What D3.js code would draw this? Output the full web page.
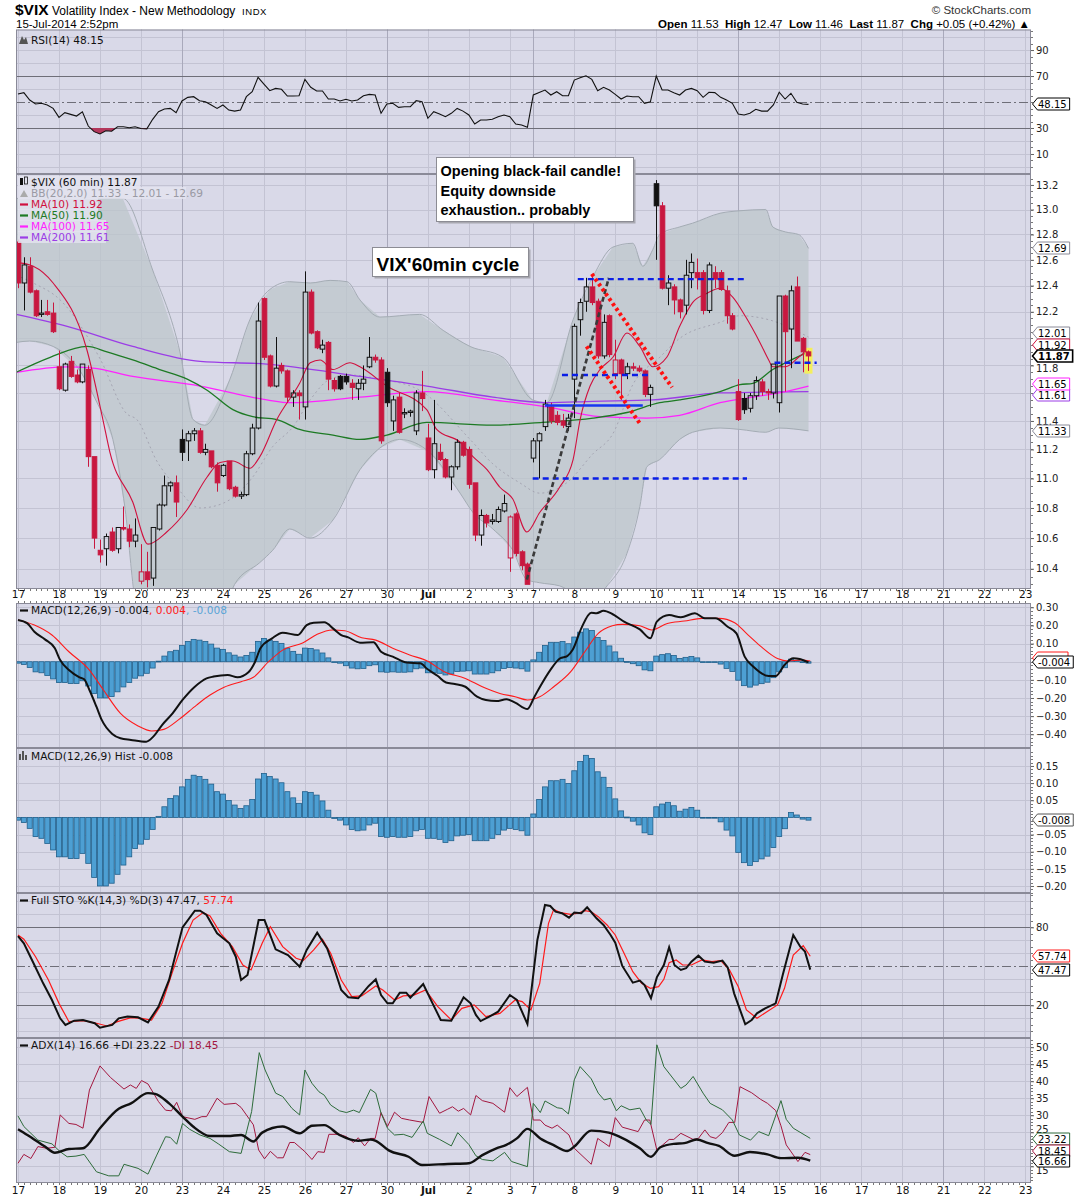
<!DOCTYPE html>
<html>
<head>
<meta charset="utf-8">
<script src="https://cdnjs.cloudflare.com/ajax/libs/d3/7.8.5/d3.min.js"></script>
<style>
  body { margin: 0; background: #fff; }
  text { font-family: "DejaVu Sans", Verdana, sans-serif; white-space: pre; }
</style>
</head>
<body>
<script>
// ---- x axis: day labels and the bar index where each day starts (7 hourly bars a day, Jul 3 half day)
var dayLabels = ["17","18","19","20","23","24","25","26","27","30","Jul","2","3","7","8","9","10","11","14","15","16","17","18","21","22","23"];
var dayStart  = [0,7,14,21,28,35,42,49,56,63,70,77,84,88,95,102,109,116,123,130,137,144,151,158,165,172];
var weekStart = [28,63,88,123,158];

// ---- 60 min candles
var opens  = [12.74,12.42,12.55,12.36,12.18,12.20,12.19,11.79,11.62,11.83, 11.73,11.68,11.77,11.15,10.52,10.53,10.64,10.53,10.67,10.66,
              10.58,10.32,10.38,10.34,10.66,10.82,10.95,10.97,11.27,11.26, 11.31,11.33,11.18,11.19,11.09,11.02,11.12,10.94,10.88,10.89,
              11.17,11.35,12.30,11.87,11.65,11.80,11.76,11.57,11.60,11.50, 12.35,12.05,11.92,11.97,11.69,11.72,11.72,11.67,11.63,11.67,
              11.79,11.86,11.84,11.75,11.40,11.57,11.45,11.46,11.33,11.60, 11.28,11.06,11.18,11.13,11.01,11.08,11.25,11.20,10.97,10.62,
              10.75,10.71,10.71,10.78,10.47,10.76,10.51,10.43,11.14,11.26, 11.36,11.50,11.44,11.40,11.36,11.70,12.14,12.28,12.39,12.28,
              11.87,12.17,11.74,11.84,11.74,11.79,11.78,11.76,11.59,13.21, 13.03,12.38,12.39,12.29,12.25,12.50,12.50,12.50,12.21,12.50,
              12.50,12.36,12.17,11.61,11.56,11.49,11.58,11.68,11.61,11.60, 11.53,12.32,12.07,12.39,12.00,11.90];
var highs  = [12.76,12.62,12.62,12.37,12.29,12.29,12.27,11.91,11.82,11.87, 11.77,11.81,11.80,11.15,10.59,10.63,10.67,10.67,10.81,10.69,
              10.73,10.56,10.51,10.67,10.83,11.02,10.98,11.02,11.34,11.33, 11.35,11.35,11.24,11.19,11.11,11.10,11.12,10.95,10.91,11.19,
              11.38,12.27,12.31,11.88,12.01,11.82,11.77,11.62,11.62,12.51, 12.37,12.06,11.99,11.98,11.71,11.73,11.74,11.70,11.70,11.80,
              12.01,11.88,11.86,11.78,11.58,11.60,11.49,11.48,11.62,11.76, 11.38,11.55,11.24,11.14,11.09,11.27,11.26,11.22,10.97,10.79,
              10.76,10.76,10.81,10.89,10.75,10.77,10.52,10.44,11.28,11.32, 11.55,11.53,11.47,11.45,11.45,12.11,12.30,12.46,12.49,12.30,
              12.18,12.18,11.99,11.85,11.82,11.82,11.80,11.77,11.66,13.24, 13.06,12.48,12.41,12.30,12.60,12.65,12.61,12.52,12.58,12.55,
              12.52,12.40,12.19,11.70,11.60,11.60,11.72,11.70,11.63,11.81, 12.32,12.33,12.40,12.47,12.01,11.91];
var lows   = [12.38,12.21,12.34,12.16,12.16,12.17,12.04,11.62,11.61,11.71, 11.67,11.67,11.08,10.53,10.44,10.42,10.51,10.50,10.65,10.54,
              10.54,10.30,10.28,10.29,10.65,10.81,10.91,10.74,11.12,11.12, 11.26,11.17,11.16,11.07,10.91,11.01,10.92,10.87,10.86,10.88,
              11.16,11.34,11.84,11.64,11.64,11.74,11.53,11.50,11.41,11.41, 12.03,11.92,11.89,11.62,11.61,11.62,11.66,11.55,11.55,11.62,
              11.78,11.82,11.24,11.50,11.33,11.31,11.42,11.43,11.30,11.47, 11.05,11.00,11.12,11.00,10.92,11.06,11.15,10.93,10.58,10.55,
              10.67,10.69,10.70,10.77,10.38,10.48,10.39,10.30,11.11,11.00, 11.33,11.38,11.37,11.35,11.33,11.42,12.02,12.20,12.25,11.85,
              11.85,11.86,11.70,11.55,11.70,11.76,11.75,11.57,11.50,12.60, 12.37,12.25,12.18,12.15,12.18,12.38,12.37,12.18,12.19,12.38,
              12.36,12.11,12.06,11.40,11.45,11.46,11.55,11.58,11.55,11.56, 11.46,11.61,11.78,11.98,11.75,11.76];
var closes = [12.42,12.56,12.35,12.17,12.19,12.18,12.05,11.63,11.81,11.72, 11.68,11.81,11.15,10.60,10.49,10.61,10.52,10.67,10.66,10.58,
              10.62,10.38,10.33,10.67,10.82,10.95,10.97,10.84,11.18,11.31, 11.33,11.18,11.20,11.08,10.97,11.09,10.93,10.88,10.89,11.17,
              11.35,12.13,11.86,11.65,11.78,11.76,11.57,11.60,11.58,12.35, 12.04,11.93,11.95,11.70,11.63,11.63,11.68,11.64,11.67,11.70,
              11.86,11.84,11.26,11.53,11.55,11.32,11.46,11.47,11.60,11.56, 11.06,11.24,11.13,11.01,11.08,11.25,11.16,10.96,10.62,10.75,
              10.70,10.72,10.79,10.83,10.74,10.50,10.42,10.30,11.26,11.31, 11.52,11.40,11.39,11.37,11.42,12.09,12.27,12.39,12.27,11.87,
              12.12,11.88,11.84,11.74,11.79,11.78,11.76,11.59,11.64,13.03, 12.38,12.42,12.29,12.20,12.48,12.58,12.46,12.21,12.56,12.45,
              12.37,12.17,12.07,11.41,11.48,11.58,11.69,11.61,11.60,11.81, 12.32,12.05,12.36,11.98,11.90,11.87];

// ---- overlays on the price panel, [bar, value]
var bbUpper = [[-0.3,13.09],[17.9,13.09],[23,12.52],[27.7,11.89],[29.9,11.41],[31.9,11.37],[36.2,11.70],[39.6,12.14],[43,12.37],[46.4,12.43],[49.9,12.42],[53.3,12.44],[56.2,12.43],[58.4,12.29],[61.8,12.16],[68.6,12.18],[72.6,12.06],[77.2,11.94],[82.8,11.86],[87.9,11.55],[90.3,11.53],[94.8,12.14],[98.2,12.47],[101.6,12.70],[105,12.73],[106.7,12.55],[108.4,12.68],[109.6,12.80],[113,12.86],[115.2,12.89],[119.9,12.97],[123.3,12.99],[127.7,13.0],[128.9,12.86],[131.1,12.82],[133.3,12.80],[135,12.69]];
var bbLower = [[-0.3,11.97],[2,11.98],[6,11.94],[10.6,11.76],[13.5,11.53],[16.2,11.27],[18.3,10.79],[20,10.20],[26,9.59],[33.6,9.95],[37,10.30],[41.3,10.44],[43.5,10.52],[46.4,10.66],[49.9,10.60],[53.8,10.72],[58.4,11.06],[61.8,11.21],[65.2,11.27],[70.3,11.18],[75.5,10.90],[77.7,10.77],[81.1,10.66],[84.5,10.52],[86.9,10.33],[89.1,10.31],[92.5,10.29],[97.7,10.19],[100.6,10.29],[104,10.50],[106.2,10.81],[107.4,11.08],[109.6,11.13],[113,11.27],[115.2,11.32],[119.9,11.35],[123.3,11.34],[127.7,11.32],[129.9,11.35],[135,11.33]];
var bbMid   = [[-0.3,12.48],[2.6,12.42],[7.2,12.29],[14,11.85],[18.6,11.45],[20.3,11.41],[23.7,11.12],[27.1,10.94],[31.1,10.80],[33.3,10.81],[36.7,10.87],[40.1,11.01],[43.5,11.22],[47,11.36],[49.9,11.55],[53.3,11.70],[56.7,11.73],[61.8,11.70],[68.6,11.62],[77.2,11.27],[81.1,11.10],[85.7,10.97],[89.1,10.90],[93.7,10.97],[98.2,11.17],[101.6,11.31],[105,11.66],[109.6,11.86],[113,12.0],[119.9,12.12],[123.3,12.17],[128.2,12.14],[135,12.01]];
var ma10  = [[-0.3,12.58],[2.6,12.55],[6,12.42],[11.8,11.91],[14.5,11.41],[15.7,11.18],[19.6,10.84],[22.2,10.56],[25.4,10.64],[28.9,10.79],[32.3,11.01],[34.5,11.11],[36.7,11.12],[39.6,11.07],[41.3,11.15],[44.2,11.41],[48.1,11.67],[49.9,11.82],[51.6,11.84],[53.8,11.77],[56.7,11.82],[58.4,11.79],[63,11.65],[69.8,11.48],[71.5,11.34],[75.5,11.25],[77.7,11.15],[80.1,11.06],[82.3,10.94],[84.5,10.86],[86.9,10.64],[89.1,10.77],[92.5,10.94],[94.8,11.13],[96,11.41],[97.7,11.65],[99.4,11.77],[101.6,11.86],[104,12.04],[106.2,11.94],[108.4,11.79],[110.8,11.86],[113,12.09],[115.2,12.27],[117.6,12.34],[119.9,12.38],[122.1,12.31],[124.3,12.16],[126.7,11.97],[128.2,11.84],[128.9,11.79],[131.1,11.79],[133.3,11.86],[135,11.92]];
var ma50  = [[-0.3,11.75],[5.5,11.86],[11.8,11.94],[15.2,11.90],[19.6,11.84],[24.2,11.77],[28.9,11.70],[32.3,11.62],[36.7,11.48],[40.1,11.43],[44.2,11.41],[48.1,11.34],[53.8,11.30],[58.4,11.27],[63,11.30],[69.8,11.39],[81.1,11.37],[89.6,11.39],[98.2,11.42],[104,11.46],[109.6,11.53],[113,11.55],[119.9,11.61],[123.3,11.66],[125.5,11.67],[128.9,11.77],[131.1,11.82],[135,11.90]];
var ma100 = [[-0.3,11.75],[8.4,11.79],[12.8,11.78],[19.6,11.72],[31.1,11.65],[42.5,11.55],[46.4,11.53],[58.4,11.57],[69.8,11.61],[81.1,11.55],[90.3,11.50],[99.4,11.43],[107.4,11.42],[113,11.44],[119.9,11.53],[125.5,11.57],[131.1,11.61],[135,11.65]];
var ma200 = [[-0.3,12.18],[8.4,12.09],[19.6,11.94],[31.1,11.83],[42.5,11.81],[58.4,11.72],[69.8,11.65],[81.1,11.57],[90.3,11.53],[98.2,11.54],[108.4,11.55],[119.9,11.60],[135,11.61]];

// ---- hand-drawn annotations, in [bar, value]
var blueDashed  = [[95.6,124.6,12.45],[92.9,107.9,11.73],[87.9,124.5,11.0],[129.2,136.4,11.82]];
var blueSolid   = [[90,11.51],[106.7,11.51]];
var blackDotted = [[86.9,10.33],[100.9,12.46]];
var redDotted   = [[[98,12.49],[111.7,11.64]],[[97.1,11.94],[106.4,11.37]]];

// ---- RSI(14), one value per bar
var rsi = [56.2,57.2,51.5,48.5,49.0,47.7,45.1,38.2,41.8,40.5, 39.2,42.5,31.5,27.2,25.4,27.9,27.5,31.0,31.0,30.2,
           31.0,29.6,29.3,36.7,42.5,44.6,45.1,41.8,50.8,53.6, 54.1,51.0,50.2,47.7,45.1,47.7,43.8,43.0,43.8,54.1,
           57.9,69.0,63.8,58.7,60.5,59.8,54.6,54.6,54.8,67.4, 61.3,58.5,58.5,52.3,52.3,50.8,52.1,50.8,51.5,54.8,
           55.9,55.4,41.3,48.5,49.0,45.9,46.4,46.4,51.0,50.2, 37.5,42.5,40.8,38.7,41.3,45.1,43.0,40.0,33.1,36.2,
           36.2,36.7,38.7,40.0,38.7,33.1,32.3,30.5,55.4,57.3, 59.2,55.4,57.9,54.8,54.8,66.9,68.7,70.2,67.4,58.7,
           61.3,59.2,55.9,52.3,54.6,54.1,54.1,49.0,50.2,70.0, 59.2,59.2,57.2,55.4,59.2,60.5,58.7,53.6,57.5,57.2,
           53.6,51.5,49.0,40.8,40.0,41.3,44.4,43.0,43.0,47.7, 57.5,52.3,56.7,49.8,48.5,48.15];

// ---- MACD(12,26,9)
var macdLine = [[0,0.23],[1.6,0.211],[2.8,0.165],[4.6,0.123],[6.3,0.074],[7.2,0.009],[8.7,-0.046],[10.5,-0.086],[11.3,-0.097],[12.2,-0.156],[13.4,-0.248],[14.3,-0.321],[16.1,-0.398],[17.5,-0.422],[19.3,-0.431],[21.9,-0.441],[23.1,-0.413],[24.6,-0.349],[26.4,-0.285],[28.1,-0.211],[30.2,-0.138],[32.2,-0.092],[33.4,-0.082],[35.8,-0.073],[37.5,-0.086],[39.3,-0.06],[40.5,0],[41.4,0.074],[43.4,0.129],[45.2,0.16],[47.8,0.147],[49.3,0.202],[50.5,0.215],[52.3,0.217],[54,0.178],[55.2,0.147],[56.4,0.134],[58.4,0.105],[60.7,0.107],[62,0.055],[64,0.028],[66.4,-0.005],[68.7,-0.009],[69.9,-0.04],[71.7,-0.079],[73.1,-0.115],[74.6,-0.123],[76.4,-0.138],[78.4,-0.193],[79.9,-0.211],[81.7,-0.217],[83.4,-0.207],[84.9,-0.226],[87,-0.261],[88.2,-0.193],[89.2,-0.135],[90.9,-0.046],[92.6,0.019],[93.8,0.031],[94.7,0.064],[96.2,0.184],[97.9,0.27],[98.8,0.267],[100,0.281],[101.5,0.263],[103.5,0.221],[106.2,0.178],[108,0.129],[109.1,0.221],[111.2,0.257],[113.2,0.245],[115.6,0.267],[117.3,0.239],[119.1,0.239],[121.2,0.193],[122.7,0.156],[124.1,0.028],[125.6,-0.028],[128.2,-0.079],[129.4,-0.079],[130.9,-0.018],[132.4,0.019],[133.5,0.015],[135,-0.004]];
var macdSignal = [[0,0.23],[2.8,0.202],[5.8,0.147],[8.7,0.055],[12.2,-0.046],[14.6,-0.156],[17.5,-0.285],[20.5,-0.354],[22.8,-0.382],[24.9,-0.373],[27.5,-0.318],[30.5,-0.239],[32.8,-0.184],[35.2,-0.141],[38.1,-0.11],[40.2,-0.086],[42.8,0],[45.2,0.064],[48.7,0.105],[51.1,0.151],[53.7,0.175],[55.8,0.171],[58.7,0.132],[61.1,0.119],[64,0.074],[66.9,0.037],[69.9,0.004],[72.8,-0.055],[76.4,-0.092],[79.3,-0.138],[82.3,-0.175],[84.9,-0.193],[87,-0.211],[89.1,-0.193],[91.5,-0.138],[94.4,-0.055],[96.8,0.055],[99.1,0.156],[101.5,0.198],[103.2,0.206],[106.2,0.198],[108.2,0.175],[110.9,0.211],[113.8,0.224],[116.8,0.239],[119.7,0.239],[122.4,0.215],[124.4,0.156],[126.8,0.086],[129.7,0.018],[131.5,0.004],[133.8,0.009],[135.3,0.004]];
var macdHist = [-0.008,-0.015,-0.032,-0.056,-0.061,-0.076,-0.095,-0.115,-0.115,-0.12, -0.12,-0.105,-0.134,-0.175,-0.20,-0.20,-0.192,-0.166,-0.139,-0.115,
                -0.091,-0.078,-0.064,-0.035,0.003,0.031,0.055,0.063,0.089,0.111, 0.123,0.119,0.111,0.097,0.075,0.068,0.049,0.036,0.026,0.034,
                0.052,0.112,0.128,0.119,0.112,0.101,0.075,0.057,0.041,0.075, 0.073,0.065,0.048,0.021,-0.003,-0.008,-0.022,-0.035,-0.039,-0.037,
                -0.022,-0.017,-0.056,-0.058,-0.056,-0.058,-0.058,-0.056,-0.039,-0.035, -0.061,-0.061,-0.064,-0.073,-0.068,-0.054,-0.052,-0.050,-0.068,-0.068,
                -0.068,-0.061,-0.050,-0.037,-0.032,-0.035,-0.039,-0.052,0.010,0.052, 0.089,0.107,0.107,0.111,0.099,0.136,0.163,0.181,0.172,0.133,
                0.117,0.087,0.054,0.019,0.001,-0.011,-0.022,-0.045,-0.050,0.031, 0.039,0.044,0.034,0.018,0.024,0.029,0.021,-0.001,-0.002,-0.002,
                -0.013,-0.037,-0.054,-0.102,-0.132,-0.140,-0.129,-0.121,-0.113,-0.088, -0.056,-0.033,0.014,0.007,-0.005,-0.008];

// ---- Full STO %K(14,3) %D(3)
var stoK = [[0,73.3],[1,67.7],[2.8,51],[4.3,36.9],[5.8,24.1],[7.2,10],[8.1,4.9],[9.6,8.2],[11.1,8.7],[13.1,6.2],[14,2.8],[16.1,4.9],[17.2,10],[18.7,11.3],[20.5,10.8],[22.2,6.9],[24,19],[25.8,39.5],[28.1,80],[30.2,92.8],[31.1,92.8],[32.2,89.5],[34,75.4],[36.1,67.7],[37.2,57.4],[38.1,39.5],[39.2,43.3],[41.1,85.6],[42.1,85.6],[44,63.1],[46.1,58.7],[48.1,49.7],[49.3,62.6],[51.1,75.9],[52.8,63.8],[54,48.5],[55.2,31.8],[56.4,26.2],[58.1,25.4],[59.9,34.9],[61.1,40],[62,27.9],[63.1,21.5],[64,21.5],[65.2,29.7],[66.3,29.7],[67,25.9],[69.2,36.4],[70.8,21.5],[72.2,8.7],[74,8.2],[76.1,26.2],[77.3,21.5],[78.2,12.6],[79,7.9],[80.5,11.3],[82,15.1],[84,27.9],[85.2,24.1],[87,5.6],[88.7,70.3],[90,97.2],[90.9,96.4],[91.8,92],[92.9,90.8],[94.1,87.4],[95,91.3],[96.2,90.8],[97.2,95.4],[98.8,86.9],[100,81.8],[101.2,74.1],[102,68.2],[103.2,50.3],[105,37.4],[106.2,39],[107,35.6],[108.1,25.4],[109.1,41.5],[110.3,51],[111.2,64.6],[112.1,51],[113.2,47.2],[114.1,48.5],[115,53.6],[116.2,58.2],[117.3,53.6],[118.8,52.8],[120.3,54.4],[121.2,49.2],[122.3,29.2],[124.2,5.4],[125.3,8.7],[126.2,13.8],[127.6,17.7],[129.4,21.5],[130.6,43.3],[132.4,74.1],[133.6,65.1],[134.4,61.3],[135.3,47.47]];
var stoD = [[0,74.1],[1,70.8],[3,57.4],[5.2,39.5],[7,21.5],[8.7,7.4],[11.1,8.2],[13.4,6.2],[15.2,4.1],[17,7.4],[19.3,10.5],[21.1,10],[22.8,8.7],[24.6,21.5],[26.4,45.9],[28.1,67.7],[29.9,85.6],[31.6,91.3],[32.8,88.7],[34.6,75.4],[36.6,65.1],[38.4,51],[39.8,47.2],[41.7,67.7],[43.1,80.5],[45.2,65.1],[47.5,56.2],[48.7,54.4],[50.5,62.6],[52,70.8],[53.4,60],[55.2,39.5],[57,26.7],[58.7,27.2],[61.1,34.9],[62.3,31.8],[64.3,24.1],[65.8,27.2],[67.6,27.9],[69.6,31.8],[71.7,19],[74,8.7],[75.8,17.7],[77.9,20.3],[79.9,11.3],[82.3,13.8],[84.9,24.1],[86.1,22.8],[87.6,16.4],[89.1,36.9],[90.6,83.1],[91.5,93.8],[92.6,91.3],[94.4,90],[95.6,90.8],[96.8,92.8],[97.9,92],[99.1,88.2],[100.6,81.8],[102,74.1],[103.5,60],[105,45.9],[106.5,36.9],[108,33.1],[109.4,34.4],[110.3,40],[111.2,52.8],[112.4,54.9],[113.5,51],[115,51],[116.8,54.9],[118.5,53.6],[120,54.4],[121.5,47.2],[123,34.4],[124.4,16.4],[126.2,10],[127.9,15.1],[129.7,20.3],[130.9,33.1],[132.4,58.7],[134.1,65.9],[135.3,57.74]];

// ---- ADX(14) +DI -DI
var adx = [[0,25.9],[1.6,24.2],[4.6,20.8],[6.3,19],[8.7,20.1],[11.1,20.3],[14,26.2],[17.2,31.9],[19.3,33.5],[22.2,36.5],[23.4,36.3],[25.8,33.5],[28.1,29.6],[29.9,26.7],[32.8,23.9],[35.8,23.9],[38.1,24.2],[40.2,22.3],[41.7,24.9],[45.2,26.7],[48.1,24.7],[50.2,26.9],[52.3,27.1],[54.9,24.2],[58.1,22.5],[60.2,22.9],[61.1,22.5],[63.4,19.6],[66.7,17.8],[69,15.4],[73.4,15.7],[77,15.9],[79.3,18.3],[81.7,20.3],[83.4,21.3],[85.2,23.2],[87,26],[89.2,23.2],[91.4,21.3],[93.8,19.5],[95,20.8],[97.9,25.5],[100.9,24.9],[102.7,23.7],[105,21.6],[106.2,20.3],[108.1,17.8],[109.7,20.6],[112,21.6],[113.8,21.8],[115.9,22.9],[117.9,21.8],[119.7,21],[122.4,18.1],[125,19.2],[128,18.5],[130.3,17.4],[133.2,17.5],[135.3,16.66]];
var plusDI = [[0,29.8],[1,26.7],[3.4,22.7],[5.8,21.6],[7.2,19.3],[8.4,17.8],[9.9,18],[11.3,18.5],[13.4,13.4],[15.5,12.2],[17.2,12.2],[18.1,15.6],[20.5,14.4],[22.2,12.7],[23.7,18.3],[25.2,23.7],[26,23.5],[27.1,21.5],[28.1,27.6],[29.3,25.9],[31.1,24.2],[32.8,23.2],[34.3,21.5],[36.1,19.3],[38.1,18.8],[39.9,31.1],[41.2,48.4],[42.2,43.3],[44,36.5],[45.2,35.5],[46.8,32],[48.1,30.1],[49,43.3],[50.2,39.4],[51.4,36.9],[52.3,35.9],[53.4,33],[54.9,31.3],[56.1,30.8],[57.3,31.5],[58.3,30.8],[60.2,37.6],[61.1,36.5],[62,30.6],[63.1,26.2],[64.3,24.2],[65.8,24.4],[67.3,23.5],[69.2,28.3],[69.9,24.7],[72,22.9],[74,21],[75.1,24.9],[77,21.4],[78.2,18.1],[79.3,17],[81.1,16.6],[83.1,19.1],[84.3,16.4],[87,14.9],[88,33.5],[89.2,30.8],[90,34.2],[92.1,32.2],[92.9,32],[94,30.4],[95,40.4],[96,44.3],[97.9,40.7],[99.1,36.5],[100.1,34.5],[101.2,35],[102.2,31.3],[103,32.8],[104.5,31.6],[106.2,32.1],[107.3,28.6],[108.1,27.3],[109.1,50.7],[110.3,44.3],[113.2,37.9],[114.1,38.9],[115.3,41.4],[117,36.5],[118.2,33.5],[120.3,31.6],[122,28.6],[123.2,24.2],[125.1,22.7],[126.5,25.2],[128.2,24],[130.3,34.3],[131.2,28.8],[132.4,26.2],[135.3,23.22]];
var minusDI = [[0,15.9],[1,18.5],[2.2,17.3],[3.4,20.8],[4.9,20.3],[6.3,20.6],[7.2,30.1],[8.7,27.6],[9.9,27.3],[11.1,26.2],[12.2,37.4],[14,44.5],[15.8,41.1],[18.1,37.7],[19.2,38.9],[20.2,37.9],[21.1,40.2],[22.2,39.2],[24,34],[25.2,31.5],[26.2,31.3],[27.1,33.8],[28.1,29.6],[30.2,28.8],[31.4,29.6],[32.2,29.6],[34,35],[35.2,33.2],[37.2,33.5],[38.1,32.3],[40.2,27.2],[41.1,19.8],[42.1,17.2],[43.1,19.4],[44.3,17.5],[45.3,17.5],[46.4,22],[47.2,22],[49,19.3],[50.2,17],[51.2,19.3],[52.3,19.1],[53.1,24.4],[54.9,24.4],[56.1,23.7],[57.3,22],[58.1,23.4],[59.2,21],[60.2,23.2],[61,23.2],[62,30.8],[63.1,26.7],[64.3,30.9],[65.5,29.1],[66.9,28.6],[69.2,27.9],[70.2,35.5],[72,30.6],[73.4,31.8],[74.2,32.5],[75.2,31.2],[76.1,32],[77.3,30.1],[78.2,35.8],[79.3,34.3],[81.1,33.5],[83.1,30.9],[84,38.1],[85.2,35.5],[87,38.2],[88,28.6],[89.2,28.6],[90,27.1],[91.2,26.2],[92.1,27.1],[94.1,24.2],[95,20.3],[97.9,15.6],[99,23.2],[101,20.8],[102,29.3],[103.2,26.5],[105.9,25.2],[107,28.6],[107.9,28.6],[109.1,19.8],[111.2,22.9],[112,22.9],[113.2,24.7],[115.3,22.9],[116.2,23.2],[117.3,25.7],[118.2,23.7],[119.2,23.2],[120.3,24.9],[121.4,27.9],[122.4,27.9],[123.3,38.4],[125.3,36.6],[126.8,34.7],[128,33.5],[129.4,31.4],[130.3,26.9],[131.2,21.3],[133.2,16.4],[134.4,19.1],[135.3,18.45]];

// ---- axis tick values
var priceLabels = [10.4,10.6,10.8,11.0,11.2,11.4,11.8,12.2,12.4,12.6,12.8,13.0,13.2];
var priceGrid   = [10.4,10.6,10.8,11.0,11.2,11.4,11.6,11.8,12.0,12.2,12.4,12.6,12.8,13.0,13.2];
var rsiLabels = [10,30,70,90], rsiGrid = [0,10,20,40,60,80,90,100];
var macdLabels = [0.3,0.2,0.1,-0.1,-0.2,-0.3,-0.4], macdGrid = [0.3,0.2,0.1,0,-0.1,-0.2,-0.3,-0.4];
var histLabels = [0.15,0.1,0.05,-0.05,-0.1,-0.15,-0.2], histGrid = [0.15,0.1,0.05,-0.05,-0.1,-0.15,-0.2];
var stoLabels = [20,80], stoGrid = [0,10,30,40,60,70,90,100];
var adxLabels = [15,25,30,35,40,45,50], adxGrid = [15,20,25,30,35,40,45,50];
// labels that sit half under a value tag are pushed a few px clear of it
var labelNudge = {"11.8": 3, "25": -3, "15": 4};

var width = 1075, height = 1200, left = 16, right = 1031;
var red = "#c8173f", bg = "#d9d9e8";

var svg = d3.select("body").append("svg").attr("width", width).attr("height", height);
var defs = svg.append("defs");

var x = d3.scaleLinear().domain([-0.34, 173]).range([left, right]);
var yRsi  = d3.scaleLinear().domain([-5.4, 105.8]).range([174, 29.5]);
var yMain = d3.scaleLog().domain([10.27, 13.29]).range([589, 174]);
var yMacd = d3.scaleLinear().domain([-0.4757, 0.3236]).range([748, 603]);
var yHist = d3.scaleLinear().domain([-0.2205, 0.2024]).range([893, 748]);
var ySto  = d3.scaleLinear().domain([-5.15, 106.4]).range([1038, 893]);
var yAdx  = d3.scaleLinear().domain([10.1, 52.7]).range([1183, 1038]);

var panels = [
  {id: "rsi",  y: yRsi,  top: 29.5, bottom: 174, grid: rsiGrid,  labels: rsiLabels,  fmt: d3.format("d"),   minor: d3.range(0, 106, 5)},
  {id: "main", y: yMain, top: 174, bottom: 589, grid: priceGrid, labels: priceLabels, fmt: d3.format(".1f"), minor: d3.range(10.3, 13.29, 0.05)},
  {id: "macd", y: yMacd, top: 603, bottom: 748, grid: macdGrid,  labels: macdLabels, fmt: d3.format(".2f"),  minor: d3.range(-0.46, 0.32, 0.02)},
  {id: "hist", y: yHist, top: 748, bottom: 893, grid: histGrid,  labels: histLabels, fmt: d3.format(".2f"),  minor: d3.range(-0.22, 0.2, 0.01)},
  {id: "sto",  y: ySto,  top: 893, bottom: 1038, grid: stoGrid,  labels: stoLabels,  fmt: d3.format("d"),   minor: d3.range(0, 106, 5)},
  {id: "adx",  y: yAdx,  top: 1038, bottom: 1183, grid: adxGrid, labels: adxLabels,  fmt: d3.format("d"),   minor: d3.range(11, 53, 1)}
];

// panel backgrounds and grids
panels.forEach(function(p) {
  defs.append("clipPath").attr("id", "clip-" + p.id).append("rect")
    .attr("x", left).attr("y", p.top).attr("width", right - left).attr("height", p.bottom - p.top);
  svg.append("rect").attr("x", left).attr("y", p.top).attr("width", right - left)
    .attr("height", p.bottom - p.top).attr("fill", bg);
  svg.append("g").selectAll("line").data(p.grid).join("line")
    .attr("x1", left).attr("x2", right)
    .attr("y1", function(d) { return Math.round(p.y(d)) + 0.5; })
    .attr("y2", function(d) { return Math.round(p.y(d)) + 0.5; })
    .attr("stroke", "#c3c3d3");
  svg.append("g").selectAll("line").data(dayStart).join("line")
    .attr("x1", function(d) { return Math.round(x(d)) + 0.5; })
    .attr("x2", function(d) { return Math.round(x(d)) + 0.5; })
    .attr("y1", p.top).attr("y2", p.bottom)
    .attr("stroke", function(d) { return weekStart.indexOf(d) >= 0 ? "#a9a9bb" : "#c3c3d3"; });
});

function hline(p, v, dash) {
  svg.append("line").attr("x1", left).attr("x2", right)
    .attr("y1", Math.round(p(v)) + 0.5).attr("y2", Math.round(p(v)) + 0.5)
    .attr("stroke", "#6e6e78").attr("stroke-dasharray", dash || null);
}

// ---------- RSI panel
hline(yRsi, 70); hline(yRsi, 30); hline(yRsi, 50, "9,3,2,3");
defs.append("clipPath").attr("id", "below30").append("rect")
  .attr("x", left).attr("y", yRsi(30)).attr("width", right - left).attr("height", 174 - yRsi(30));
svg.append("path").datum(rsi).attr("clip-path", "url(#below30)")
  .attr("d", d3.area().x(function(d, i) { return x(i); }).y0(yRsi(30)).y1(function(d) { return yRsi(d); }))
  .attr("fill", "#b3375c");
svg.append("path").datum(rsi).attr("fill", "none").attr("stroke", "#111").attr("stroke-width", 1.1)
  .attr("d", d3.line().x(function(d, i) { return x(i); }).y(function(d) { return yRsi(d); }));

// ---------- price panel
var gMain = svg.append("g").attr("clip-path", "url(#clip-main)");
var pline = d3.line().x(function(d) { return x(d[0]); }).y(function(d) { return yMain(d[1]); }).curve(d3.curveMonotoneX);
var band = bbUpper.concat(bbLower.slice().reverse());
gMain.append("path").datum(band).attr("fill", "#bcc5cb").attr("fill-opacity", 0.75)
  .attr("d", d3.line().x(function(d) { return x(d[0]); }).y(function(d) { return yMain(d[1]); }).curve(d3.curveLinearClosed));
gMain.append("path").datum(bbUpper).attr("fill", "none").attr("stroke", "#a4acb4").attr("d", pline);
gMain.append("path").datum(bbLower).attr("fill", "none").attr("stroke", "#a4acb4").attr("d", pline);
gMain.append("path").datum(bbMid).attr("fill", "none").attr("stroke", "#a5a5b2").attr("stroke-dasharray", "2,3").attr("d", pline);
[[ma200, "#9b3de6", 1.3], [ma100, "#ff22ff", 1.3], [ma50, "#1d7a24", 1.3], [ma10, "#d0103e", 1.1]].forEach(function(m) {
  gMain.append("path").datum(m[0]).attr("fill", "none").attr("stroke", m[1]).attr("stroke-width", m[2]).attr("d", pline);
});

// highlight of the live bar
var last = closes.length - 1;
gMain.append("rect").attr("x", x(last) - 4).attr("width", 8)
  .attr("y", yMain(11.93)).attr("height", yMain(11.74) - yMain(11.93)).attr("fill", "#f4ee5c");

var bw = 4.6;
gMain.selectAll("g.candle").data(d3.range(closes.length)).join("g").attr("class", "candle").each(function(i) {
  var o = opens[i], h = highs[i], l = lows[i], c = closes[i];
  var col = (i > 0 && c >= closes[i - 1]) ? "#111" : red;
  var cx = Math.round(x(i)) + 0.5;
  var yt = yMain(Math.max(o, c)), yb = yMain(Math.min(o, c));
  if (yb - yt < 1) { yb = yt + 1; }
  var g = d3.select(this);
  g.append("line").attr("x1", cx).attr("x2", cx).attr("y1", yMain(h)).attr("y2", yt).attr("stroke", col);
  g.append("line").attr("x1", cx).attr("x2", cx).attr("y1", yb).attr("y2", yMain(l)).attr("stroke", col);
  g.append("rect").attr("x", cx - bw / 2).attr("y", yt).attr("width", bw).attr("height", yb - yt)
    .attr("fill", c >= o ? "none" : col).attr("stroke", col).attr("stroke-width", 1);
});

// hand-drawn lines
blueDashed.forEach(function(d) {
  gMain.append("line").attr("x1", x(d[0])).attr("x2", x(d[1])).attr("y1", yMain(d[2])).attr("y2", yMain(d[2]))
    .attr("stroke", "#0a1ee6").attr("stroke-width", 2.4).attr("stroke-dasharray", "6,4");
});
gMain.append("line").attr("x1", x(blueSolid[0][0])).attr("x2", x(blueSolid[1][0]))
  .attr("y1", yMain(blueSolid[0][1])).attr("y2", yMain(blueSolid[1][1]))
  .attr("stroke", "#1636f0").attr("stroke-width", 2.4);
gMain.append("line").attr("x1", x(blackDotted[0][0])).attr("y1", yMain(blackDotted[0][1]))
  .attr("x2", x(blackDotted[1][0])).attr("y2", yMain(blackDotted[1][1]))
  .attr("stroke", "#3a3a3a").attr("stroke-width", 2.6).attr("stroke-dasharray", "5,3");
redDotted.forEach(function(s) {
  gMain.append("line").attr("x1", x(s[0][0])).attr("y1", yMain(s[0][1]))
    .attr("x2", x(s[1][0])).attr("y2", yMain(s[1][1]))
    .attr("stroke", "#ff1010").attr("stroke-width", 4).attr("stroke-dasharray", "3,3");
});

// ---------- MACD panel
var gMacd = svg.append("g").attr("clip-path", "url(#clip-macd)");
gMacd.selectAll("rect").data(macdHist).join("rect")
  .attr("x", function(d, i) { return x(i) - 2.5; }).attr("width", 5)
  .attr("y", function(d) { return Math.min(yMacd(d), yMacd(0)); })
  .attr("height", function(d) { return Math.max(0.8, Math.abs(yMacd(d) - yMacd(0))); })
  .attr("fill", "#4d9fd3").attr("stroke", "#1f5f8b").attr("stroke-width", 0.8);
var mline = d3.line().x(function(d) { return x(d[0]); }).y(function(d) { return yMacd(d[1]); }).curve(d3.curveMonotoneX);
gMacd.append("path").datum(macdSignal).attr("fill", "none").attr("stroke", "#ff1a1a").attr("stroke-width", 1.1).attr("d", mline);
gMacd.append("path").datum(macdLine).attr("fill", "none").attr("stroke", "#111").attr("stroke-width", 2).attr("d", mline);

// ---------- MACD histogram panel
var gHist = svg.append("g").attr("clip-path", "url(#clip-hist)");
gHist.selectAll("rect").data(macdHist).join("rect")
  .attr("x", function(d, i) { return x(i) - 2.5; }).attr("width", 5)
  .attr("y", function(d) { return Math.min(yHist(d), yHist(0)); })
  .attr("height", function(d) { return Math.max(0.8, Math.abs(yHist(d) - yHist(0))); })
  .attr("fill", "#4d9fd3").attr("stroke", "#1f5f8b").attr("stroke-width", 0.8);

// ---------- STO panel
hline(ySto, 80); hline(ySto, 20); hline(ySto, 50, "9,3,2,3");
var sline = d3.line().x(function(d) { return x(d[0]); }).y(function(d) { return ySto(d[1]); });
svg.append("path").datum(stoD).attr("fill", "none").attr("stroke", "#ff1a1a").attr("stroke-width", 1.2).attr("d", sline);
svg.append("path").datum(stoK).attr("fill", "none").attr("stroke", "#111").attr("stroke-width", 2).attr("d", sline);

// ---------- ADX panel
var aline = d3.line().x(function(d) { return x(d[0]); }).y(function(d) { return yAdx(d[1]); });
var gAdx = svg.append("g").attr("clip-path", "url(#clip-adx)");
gAdx.append("path").datum(minusDI).attr("fill", "none").attr("stroke", "#a3173f").attr("stroke-width", 1).attr("d", aline);
gAdx.append("path").datum(plusDI).attr("fill", "none").attr("stroke", "#2d6b3a").attr("stroke-width", 1).attr("d", aline);
gAdx.append("path").datum(adx).attr("fill", "none").attr("stroke", "#111").attr("stroke-width", 2.4)
  .attr("d", aline.curve(d3.curveMonotoneX));

// ---------- frames and right axes
panels.forEach(function(p) {
  svg.append("rect").attr("x", left + 0.5).attr("y", p.top + 0.5).attr("width", right - left - 1)
    .attr("height", p.bottom - p.top - 1).attr("fill", "none").attr("stroke", "#8a8a98");
  svg.append("g").selectAll("line").data(p.minor).join("line")
    .attr("x1", right).attr("x2", right + 2)
    .attr("y1", function(d) { return Math.round(p.y(d)) + 0.5; })
    .attr("y2", function(d) { return Math.round(p.y(d)) + 0.5; })
    .attr("stroke", "#777");
  var ax = svg.append("g").attr("transform", "translate(" + right + ",0)")
    .call(d3.axisRight(p.y).tickValues(p.labels).tickFormat(p.fmt).tickSize(3).tickPadding(2));
  ax.select(".domain").remove();
  ax.selectAll("line").attr("stroke", "#666");
  ax.selectAll("text").attr("font-size", 10).attr("fill", "#222").attr("font-family", "'DejaVu Sans', Verdana, sans-serif")
    .attr("y", function(d) { return labelNudge[p.fmt(d)] || 0; });
});

// text boxes (drawn over the panel frame, as in the original)
function noteBox(bx, by, bwid, bht, lines, size, lh) {
  svg.append("rect").attr("x", bx + 2).attr("y", by + 2).attr("width", bwid).attr("height", bht).attr("fill", "#a8a8b0");
  svg.append("rect").attr("x", bx).attr("y", by).attr("width", bwid).attr("height", bht)
    .attr("fill", "#fff").attr("stroke", "#8c8c94");
  lines.forEach(function(t, k) {
    svg.append("text").attr("x", bx + 4).attr("y", by + size + 4 + k * lh)
      .style("font-family", "'Liberation Sans', Arial, sans-serif").attr("font-weight", "bold")
      .attr("font-size", size).attr("fill", "#000").text(t);
  });
}
noteBox(436.5, 157.5, 197, 64, ["Opening black-fail candle!", "Equity downside", "exhaustion.. probably"], 14.5, 19.5);
noteBox(372.5, 247.5, 156, 29, ["VIX'60min cycle"], 19, 0);

// ---------- date axes
function dateAxis(yPos, tickY, dir) {
  svg.append("g").selectAll("line").data(d3.range(0, 173)).join("line")
    .attr("x1", function(d) { return Math.round(x(d)) + 0.5; })
    .attr("x2", function(d) { return Math.round(x(d)) + 0.5; })
    .attr("y1", tickY).attr("y2", tickY + dir * 2).attr("stroke", "#777");
  var ax = svg.append("g").attr("transform", "translate(0," + yPos + ")")
    .call(d3.axisBottom(x).tickValues(dayStart).tickSize(0).tickPadding(2)
      .tickFormat(function(d, i) { return dayLabels[i]; }));
  ax.select(".domain").remove();
  ax.selectAll("text").attr("font-size", 10.5).attr("fill", "#111")
    .attr("font-family", "'DejaVu Sans', Verdana, sans-serif")
    .attr("font-weight", function(d, i) { return dayLabels[i] === "Jul" ? "bold" : null; });
}
dateAxis(589, 589, 1);
svg.append("g").selectAll("line").data(d3.range(0, 173)).join("line")
  .attr("x1", function(d) { return Math.round(x(d)) + 0.5; })
  .attr("x2", function(d) { return Math.round(x(d)) + 0.5; })
  .attr("y1", 603).attr("y2", 601).attr("stroke", "#777");
dateAxis(1185, 1183, 1);

// ---------- value tags on the right (stacked tags nudged a few px apart so labels stay legible)
function tag(yPos, label, color, bold) {
  var g = svg.append("g").attr("transform", "translate(" + (right + 1) + "," + Math.round(yPos) + ")");
  var w = 36;
  if (label) {
    var t = g.append("text").attr("x", 6).attr("dy", "0.36em").attr("font-size", 10)
      .attr("font-weight", bold ? "bold" : null).attr("fill", "#000").text(label);
    w = t.node().getComputedTextLength() + 9;
  }
  g.insert("path", "text").attr("d", "M0.5,0L5.5,-6H" + w + "V6H5.5Z")
    .attr("fill", "#fff").attr("stroke", color).attr("stroke-width", bold ? 1.6 : 1);
}
tag(yRsi(48.15), "48.15", "#000");
tag(yMain(12.69), "12.69", "#8a8a98");
tag(yMain(12.01) - 4, "12.01", "#8a8a98");
tag(yMain(11.61) + 3, "11.61", "#9b3de6");
tag(yMain(11.65) - 2, "11.65", "#ff22ff");
tag(yMain(11.33), "11.33", "#8a8a98");
tag(yMain(11.92) - 4, "11.92", "#d0103e");
tag(yMain(11.87), "11.87", "#000", true);
tag(yMacd(0.004) - 3, "", "#ff1a1a");
tag(yMacd(-0.004), "-0.004", "#000");
tag(yHist(-0.008), "-0.008", "#555");
tag(ySto(57.74), "57.74", "#ff1a1a");
tag(ySto(47.47), "47.47", "#000");
tag(yAdx(23.22) + 1, "23.22", "#2d6b3a");
tag(yAdx(18.45) - 4, "18.45", "#a3173f");
tag(yAdx(16.66), "16.66", "#000");

// ---------- legends
function legend(lx, ly, parts, icon, iconColor) {
  if (icon === "dash") {
    svg.append("line").attr("x1", lx - 11).attr("x2", lx - 3).attr("y1", ly - 3.5).attr("y2", ly - 3.5)
      .attr("stroke", iconColor).attr("stroke-width", 2.2);
  }
  var t = svg.append("text").attr("x", lx).attr("y", ly).attr("font-size", 10.6);
  parts.forEach(function(p) { t.append("tspan").attr("fill", p[1]).text(p[0]); });
  return t;
}
function legendBg(ly, w) {
  svg.append("rect").attr("x", 18).attr("y", ly - 10).attr("width", w).attr("height", 12)
    .attr("fill", "#e3e3ee").attr("fill-opacity", 0.85);
}
// RSI
svg.append("path").attr("d", "M19,44L22,36L24,40L26,37L28,44Z").attr("fill", "#555");
legend(31, 44, [["RSI(14) 48.15", "#111"]]);
// price panel
legendBg(186, 122); legendBg(197, 168); legendBg(208, 80); legendBg(219, 80); legendBg(230, 88); legendBg(241, 88);
svg.append("rect").attr("x", 20).attr("y", 178).attr("width", 3).attr("height", 7).attr("fill", "#111");
svg.append("rect").attr("x", 24.5).attr("y", 177).attr("width", 3).attr("height", 7).attr("fill", "none").attr("stroke", "#111").attr("stroke-width", 0.8);
legend(31, 186, [["$VIX (60 min) 11.87", "#111"]]);
svg.append("path").attr("d", "M20,197L24,190L28,197Z").attr("fill", "#aaa");
legend(31, 197, [["BB(20,2.0) 11.33 - 12.01 - 12.69", "#9a9aa4"]]);
legend(31, 208, [["MA(10) 11.92", "#d0103e"]], "dash", "#d0103e");
legend(31, 219, [["MA(50) 11.90", "#1d7a24"]], "dash", "#1d7a24");
legend(31, 230, [["MA(100) 11.65", "#ff22ff"]], "dash", "#ff22ff");
legend(31, 241, [["MA(200) 11.61", "#9b3de6"]], "dash", "#9b3de6");
// MACD
legend(31, 614, [["MACD(12,26,9) -0.004", "#111"], [", 0.004", "#ff1a1a"], [", -0.008", "#5aa4d6"]], "dash", "#111");
svg.append("path").attr("d", "M19,760V754H21V760ZM22,760V751H24V760ZM25,760V755H27V760Z").attr("fill", "#555");
legend(31, 760, [["MACD(12,26,9) Hist -0.008", "#111"]]);
// STO
legend(31, 904, [["Full STO %K(14,3) %D(3) 47.47, ", "#111"], ["57.74", "#ff1a1a"]], "dash", "#111");
// ADX
legend(31, 1049, [["ADX(14) 16.66 +DI 23.22 ", "#111"], ["-DI 18.45", "#a3173f"]], "dash", "#111");

// ---------- header
var h1 = svg.append("text").attr("x", 15).attr("y", 15).style("font-family", "'Liberation Sans', Arial, sans-serif");
h1.append("tspan").attr("font-weight", "bold").attr("font-size", 15.5).text("$VIX");
h1.append("tspan").attr("font-size", 12).text(" Volatility Index - New Methodology ");
h1.append("tspan").attr("font-size", 9.5).attr("letter-spacing", 0.6).text(" INDX");
svg.append("text").attr("x", 16).attr("y", 28).attr("font-size", 11.5)
  .style("font-family", "'Liberation Sans', Arial, sans-serif").text("15-Jul-2014 2:52pm");
svg.append("text").attr("x", 1031).attr("y", 14).attr("text-anchor", "end").attr("font-size", 11.5)
  .attr("fill", "#333").style("font-family", "'Liberation Sans', Arial, sans-serif").text("\u00a9 StockCharts.com");
var h2 = svg.append("text").attr("x", 1030).attr("y", 28).attr("text-anchor", "end").attr("font-size", 11.5)
  .style("font-family", "'Liberation Sans', Arial, sans-serif");
[["Open", true], [" 11.53  ", false], ["High", true], [" 12.47  ", false], ["Low", true], [" 11.46  ", false],
 ["Last", true], [" 11.87  ", false], ["Chg", true], [" +0.05 (+0.42%) \u25b2", false]].forEach(function(p) {
  h2.append("tspan").attr("font-weight", p[1] ? "bold" : null).text(p[0]);
});
</script>
</body>
</html>
